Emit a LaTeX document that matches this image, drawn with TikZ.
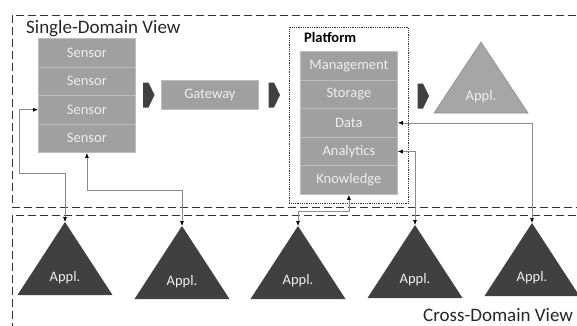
\documentclass[tikz,border=0pt]{standalone}
\usepackage{fontspec}
\setmainfont{Carlito}
\usetikzlibrary{arrows.meta}
\definecolor{layerfill}{HTML}{A0A0A0}
\definecolor{layerline}{HTML}{BDBDBD}
\definecolor{layertext}{HTML}{EEEEEE}
\definecolor{darkfill}{HTML}{404040}
\definecolor{tlight}{HTML}{A6A6A6}
\definecolor{tborder}{HTML}{909090}
\definecolor{connline}{HTML}{8C8C8C}
\definecolor{boxline}{HTML}{333333}
\definecolor{labeltext}{HTML}{262626}
\begin{document}
\begin{tikzpicture}[x=1pt,y=-1pt,
  layer/.style={draw=layerline, fill=layerfill, line width=0.8pt, minimum width=97pt,
    minimum height=28.6pt, inner sep=0pt, text=layertext, font=\fontsize{14.5}{16}\selectfont,
    anchor=north west},
  apptext/.style={text=layertext, font=\fontsize{14.5}{16}\selectfont, inner sep=0pt},
  dashbox/.style={draw=boxline, line width=1pt, dash pattern=on 8pt off 4pt},
  conn/.style={draw=connline, line width=0.7pt,
    {Latex[length=5pt,width=4pt,color=black]}-{Latex[length=5pt,width=4pt,color=black]}},
  blockarrow/.pic={\fill[darkfill] (-5.5,-12.5) -- (0,-12.5) -- (6,0) -- (0,12.5) -- (-5.5,12.5) -- cycle;},
  bigtext/.style={text=labeltext, font=\fontsize{19}{21}\selectfont, inner sep=0pt}
]
\useasboundingbox (0,0) rectangle (577,325);

% view frames
\draw[dashbox] (600,15) -- (12,15) -- (12,207) -- (600,207);
\draw[dashbox] (600,215) -- (12,215) -- (12,335);
\node[bigtext, anchor=base west] (sdv) at (26,33) {Single-Domain View};
\node[bigtext, anchor=base west] (cdv) at (423,321) {Cross-Domain View};

% sensors
\node[layer] (s1) at (38,38) {Sensor};
\node[layer] (s2) at (38,66.5) {Sensor};
\node[layer] (s3) at (38,95) {Sensor};
\node[layer] (s4) at (38,123.5) {Sensor};

% gateway
\node[layer, minimum height=29pt] (gw) at (161,80) {Gateway};

% platform
\node[draw=boxline, densely dotted, line width=0.8pt, minimum width=119pt, minimum height=176pt,
  inner sep=0pt, anchor=north west] (plat) at (289,27) {};
\node[text=black, font=\bfseries\fontsize{14.5}{16}\selectfont, anchor=west, inner sep=0pt] (platlbl) at (304,37) {Platform};
\node[layer] (mg) at (300,51) {Management};
\node[layer] (st) at (300,79.6) {Storage};
\node[layer] (da) at (300,108.2) {Data};
\node[layer] (an) at (300,136.8) {Analytics};
\node[layer] (kn) at (300,165.4) {Knowledge};

% block arrows
\pic at (148.5,95) {blockarrow};
\pic at (274,95) {blockarrow};
\pic at (423,96) {blockarrow};

% top application
\draw[fill=tlight, draw=tborder, line width=0.6pt] (481,42) -- (528,113) -- (434,113) -- cycle;
\node[apptext] (apptop) at (481,97) {Appl.};

% bottom applications
\coordinate (t1) at (65,222);
\coordinate (t2) at (182,226);
\coordinate (t3) at (298,226);
\coordinate (t4) at (415,225);
\coordinate (t5) at (532,223);
\foreach \t in {t1,t2,t3,t4,t5}{
  \fill[darkfill] (\t) -- ++(47.5,73) -- ++(-95,0) -- cycle;
}
\node[apptext] (a1) at (65,278) {Appl.};
\node[apptext] (a2) at (182,282) {Appl.};
\node[apptext] (a3) at (298,281) {Appl.};
\node[apptext] (a4) at (415,280) {Appl.};
\node[apptext] (a5) at (532,278) {Appl.};

% connectors
\draw[conn] (s3.west) -| (19,173) -| (t1);
\draw[conn] (s4.south) |- (182,190) -| (t2);
\draw[conn] (kn.south) |- (298,211) -| (t3);
\draw[conn] (an.east) -| (t4);
\draw[conn] (da.east) -| (t5);
\end{tikzpicture}
\end{document}
